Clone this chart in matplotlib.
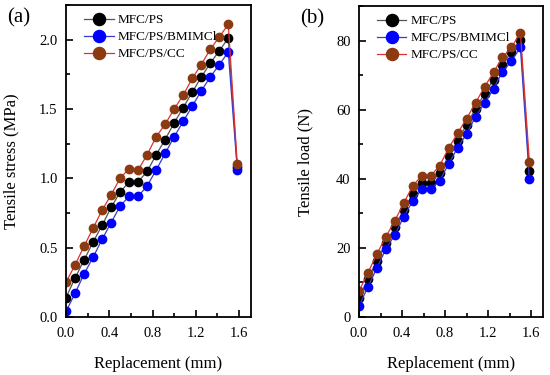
import numpy as np
import matplotlib
matplotlib.use("Agg")
import matplotlib.pyplot as plt
from matplotlib.ticker import MultipleLocator

# displacement steps (mm)
replacement = [i / 12 for i in range(20)]
series_names = ["MFC/PS", "MFC/PS/BMIMCl", "MFC/PS/CC"]

# (a) tensile stress, MPa
stress_ps = [0.14, 0.28, 0.41, 0.54, 0.66, 0.79, 0.90, 0.975, 0.975, 1.05,
             1.17, 1.28, 1.40, 1.51, 1.62, 1.73, 1.83, 1.92, 2.01, 1.08]
stress_bm = [0.04, 0.17, 0.31, 0.43, 0.56, 0.68, 0.80, 0.87, 0.87, 0.945,
             1.06, 1.18, 1.30, 1.41, 1.52, 1.63, 1.73, 1.82, 1.91, 1.06]
stress_cc = [0.25, 0.375, 0.51, 0.64, 0.77, 0.88, 1.00, 1.07, 1.06, 1.17,
             1.30, 1.39, 1.50, 1.60, 1.72, 1.82, 1.93, 2.02, 2.11, 1.10]

# (b) tensile load, N
load_ps = [5.5, 11.0, 16.2, 21.4, 26.1, 31.0, 35.7, 38.8, 38.8, 41.7,
           46.7, 51.0, 55.7, 60.3, 64.6, 68.7, 73.0, 76.8, 80.3, 42.3]
load_bm = [3.2, 8.7, 14.2, 19.7, 23.8, 29.0, 33.6, 37.0, 37.0, 39.5,
           44.3, 49.0, 53.0, 58.0, 62.0, 66.0, 71.0, 74.0, 78.0, 40.0]
load_cc = [7.5, 12.8, 18.3, 23.2, 27.9, 33.0, 38.0, 40.9, 40.9, 43.8,
           48.9, 53.2, 57.4, 62.0, 66.6, 70.8, 75.1, 78.0, 82.3, 45.0]

line_colors = ["#555555", "#3a3ad0", "#e03030"]
face_colors = ["black", "#0000ff", "#8b3a12"]

plt.rcParams["font.family"] = ["Liberation Serif", "DejaVu Serif"]


def draw_panel(ax, ys, ylim, ymajor, yminor, ylabel, tag, yfmt):
    for y, name, lc, fc in zip(ys, series_names, line_colors, face_colors):
        ax.plot(replacement, y, "-", color=lc, lw=0.9, marker="o", ms=6,
                mfc=fc, mec=fc, label=name)
    ax.set_xlim(0, 1.71)
    ax.set_ylim(*ylim)
    ax.xaxis.set_major_locator(MultipleLocator(0.4))
    ax.xaxis.set_minor_locator(MultipleLocator(0.2))
    ax.yaxis.set_major_locator(MultipleLocator(ymajor))
    ax.yaxis.set_minor_locator(MultipleLocator(yminor))
    ax.yaxis.set_major_formatter(yfmt)
    ax.xaxis.set_major_formatter("{x:.1f}")
    ax.tick_params(which="both", direction="in", labelsize=10.5)
    ax.tick_params(which="major", length=5, width=1.2)
    ax.tick_params(which="minor", length=3, width=1.2)
    ax.tick_params(axis="x", pad=7)
    ax.tick_params(axis="y", pad=6)
    for s in ax.spines.values():
        s.set_linewidth(1.3)
    ax.set_xlabel("Replacement (mm)", fontsize=12, labelpad=12)
    ax.set_ylabel(ylabel, fontsize=12)
    ax.yaxis.set_label_coords(-0.25, 0.5)
    ax.legend(loc="upper left", frameon=False, fontsize=9.5, markerscale=1.45,
              handlelength=2.2, handletextpad=0.3, labelspacing=0.35,
              borderaxespad=0.3, bbox_to_anchor=(0.05, 1.0))
    ax.text(-0.32, 0.96, tag, transform=ax.transAxes, fontsize=15, va="center")


fig = plt.figure(figsize=(5.5, 3.75), dpi=100)
ax1 = fig.add_axes([66 / 550, 1 - 317 / 375, 185 / 550, 312 / 375])
ax2 = fig.add_axes([359 / 550, 1 - 317 / 375, 184 / 550, 311 / 375])

draw_panel(ax1, [stress_ps, stress_bm, stress_cc], (0, 2.25), 0.5, 0.25,
           "Tensile stress (MPa)", "(a)", "{x:.1f}")
draw_panel(ax2, [load_ps, load_bm, load_cc], (0, 90), 20, 10,
           "Tensile load (N)", "(b)", "{x:.0f}")

fig.savefig("out.png", dpi=100)
